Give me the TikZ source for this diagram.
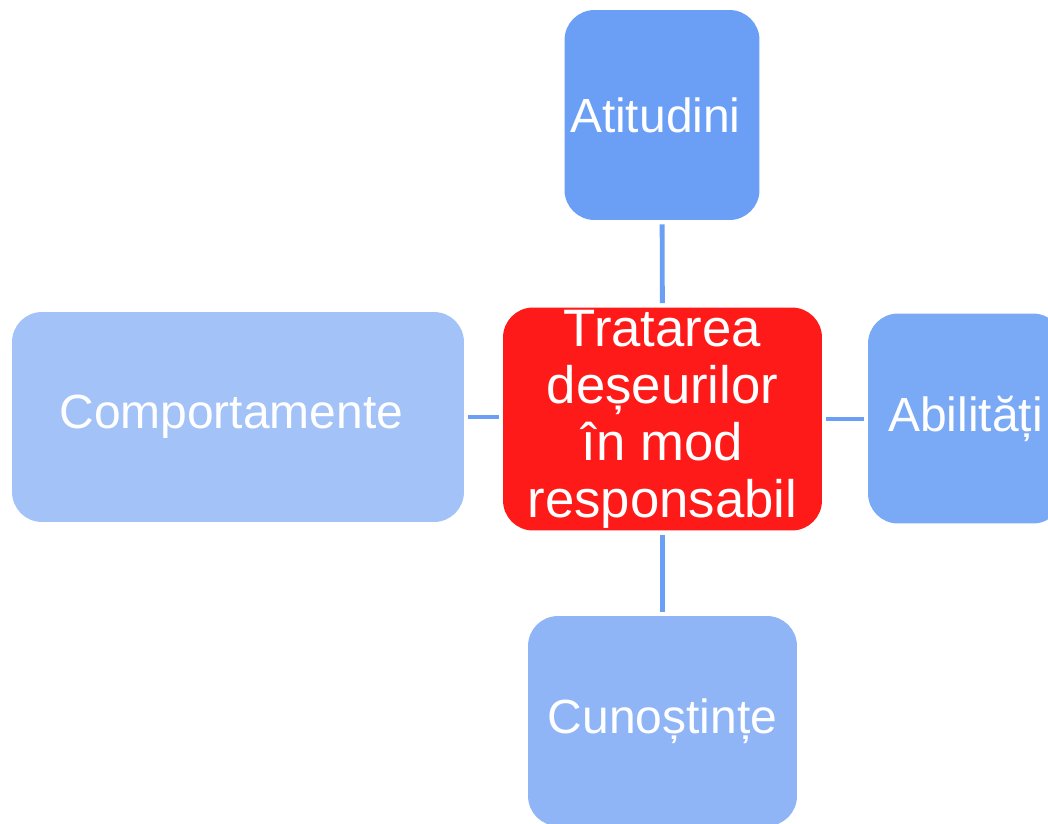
\documentclass[tikz,border=0pt]{standalone}
\usepackage{fontspec}
\setmainfont{Liberation Sans}
\usepackage{tikz}
\usetikzlibrary{positioning}

\definecolor{topblue}{HTML}{6A9FF5}
\definecolor{rightblue}{HTML}{7AA9F5}
\definecolor{bottomblue}{HTML}{8FB5F7}
\definecolor{leftblue}{HTML}{A3C2F7}
\definecolor{hubred}{HTML}{FF1A1A}
\definecolor{linkblue}{HTML}{6A9FF5}

\begin{document}
\begin{tikzpicture}[
    x=0.02cm,y=-0.02cm,
    box/.style={rounded corners=0.6cm,align=center,text=white,inner sep=0pt,minimum height=4.2cm,font=\fontsize{27.3pt}{30pt}\selectfont},
    hub/.style={box,fill=hubred,minimum width=6.38cm,minimum height=4.46cm,font=\fontsize{30pt}{32.4pt}\selectfont},
    link/.style={linkblue,line width=2.8pt,shorten <=0.08cm,shorten >=0.08cm}
]
\useasboundingbox (0,0) rectangle (1048,823);

\node[hub] (hub) at (662.5,419) {Tratarea\\deșeurilor\\în mod\\responsabil};
\node[box,fill=topblue,minimum width=3.9cm] (atit) at (662,115) {Atitudini\ };
\node[box,fill=rightblue,minimum width=3.9cm] (abil) at (965.5,418.5) {Abilități};
\node[box,fill=bottomblue,minimum width=5.38cm] (cuno) at (662.5,721) {Cunoștințe};
\node[box,fill=leftblue,minimum width=9.04cm] (comp) at (238,417) {Comportamente\ };

\draw[link] (atit) -- (hub);
\draw[link] (hub) -- (cuno);
\draw[link] (comp.east) -- (comp.east -| hub.west);
\draw[link] (hub.east) -- (hub.east -| abil.west);
\end{tikzpicture}
\end{document}
